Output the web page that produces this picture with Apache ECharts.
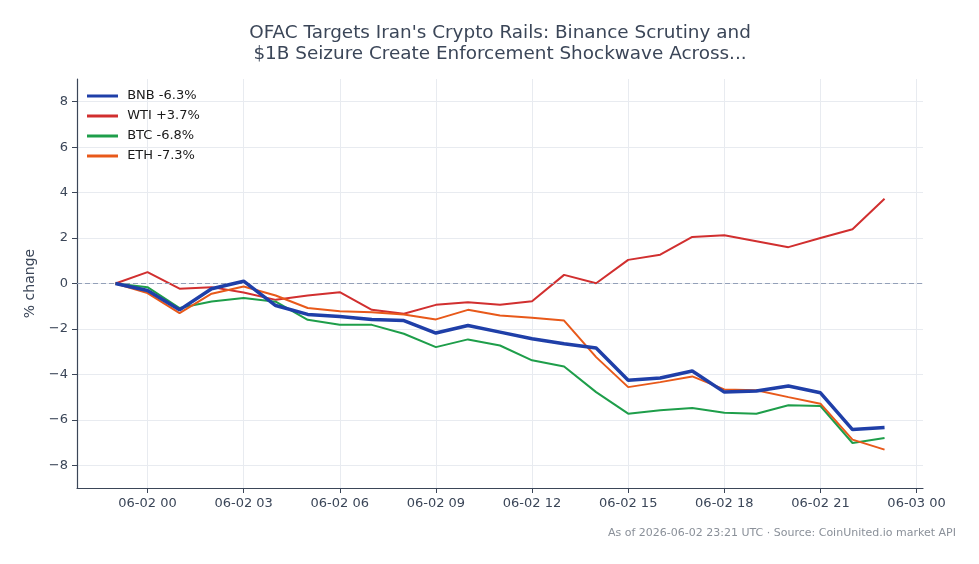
<!DOCTYPE html>
<html>
<head>
<meta charset="utf-8">
<script src="https://cdn.jsdelivr.net/npm/echarts@6/dist/echarts.min.js"></script>
<style>
  html, body { margin: 0; padding: 0; background: #fff; }
  #chart { width: 979px; height: 564px; }
</style>
</head>
<body>
<div id="chart"></div>
<script>
// hourly points, 06-01 23:00 .. 06-02 23:00 UTC
const hours = [];
for (let h = 0; h < 25; h++) hours.push(Date.UTC(2026, 5, 1, 23 + h));

const bnb = [0, -0.31, -1.16, -0.23, 0.1, -0.97, -1.36, -1.45, -1.58, -1.63, -2.18, -1.85, -2.14,
  -2.43, -2.65, -2.84, -4.26, -4.16, -3.85, -4.78, -4.73, -4.51, -4.81, -6.43, -6.34];
const wti = [0, 0.5, -0.23, -0.16, -0.4, -0.72, -0.53, -0.38, -1.16, -1.33, -0.94, -0.82, -0.94,
  -0.78, 0.38, 0.01, 1.04, 1.27, 2.05, 2.12, 1.86, 1.6, 2.0, 2.39, 3.73];
const btc = [0, -0.16, -1.08, -0.79, -0.64, -0.8, -1.6, -1.82, -1.82, -2.21, -2.8, -2.46, -2.73,
  -3.38, -3.65, -4.78, -5.73, -5.58, -5.48, -5.69, -5.73, -5.36, -5.39, -7.02, -6.8];
const eth = [0, -0.42, -1.3, -0.45, -0.13, -0.53, -1.08, -1.22, -1.26, -1.36, -1.58, -1.16, -1.41,
  -1.51, -1.63, -3.24, -4.56, -4.34, -4.09, -4.66, -4.7, -5.0, -5.29, -6.87, -7.31];

const seriesNames = ['BNB -6.3%', 'WTI +3.7%', 'BTC -6.8%', 'ETH -7.3%'];
const colors = ['#1f3fa8', '#d12f2f', '#1e9e4a', '#e8591a'];
const widths = [3.5, 2, 2, 2];

const xTicks = [];
for (let h = 0; h <= 24; h += 3) xTicks.push(Date.UTC(2026, 5, 2, h));
const yTicks = [-8, -6, -4, -2, 0, 2, 4, 6, 8];

// 5% margin each side, like the original
const pad = 1.2 * 3600 * 1000;
const xMin = hours[0] - pad;
const xMax = hours[hours.length - 1] + pad;

const fmtTime = v => {
  const d = new Date(v);
  const p = n => String(n).padStart(2, '0');
  return `${p(d.getUTCMonth() + 1)}-${p(d.getUTCDate())} ${p(d.getUTCHours())}`;
};

const chart = echarts.init(document.getElementById('chart'));
const axisColor = '#3b4658';
const font = 'DejaVu Sans';

const series = [bnb, wti, btc, eth].map((vals, i) => ({
  name: seriesNames[i],
  type: 'line',
  data: vals.map((v, j) => [hours[j], v]),
  showSymbol: false,
  symbol: 'none',
  z: i === 0 ? 5 : 3,
  lineStyle: { color: colors[i], width: widths[i] },
  itemStyle: { color: colors[i] }
}));
series[0].markLine = {
  silent: true,
  symbol: 'none',
  label: { show: false },
  lineStyle: { color: '#93a0b8', type: [5, 3], width: 1 },
  data: [{ yAxis: 0 }]
};

chart.setOption({
  animation: false,
  backgroundColor: '#fff',
  textStyle: { fontFamily: font },
  title: {
    text: "OFAC Targets Iran's Crypto Rails: Binance Scrutiny and\n$1B Seizure Create Enforcement Shockwave Across...",
    left: 495,
    top: 18,
    textAlign: 'center',
    textStyle: { fontFamily: font, fontSize: 18.4, fontWeight: 'normal', color: '#3b4658', lineHeight: 21 }
  },
  legend: {
    orient: 'vertical',
    left: 82,
    top: 84,
    itemWidth: 31,
    itemHeight: 3,
    itemGap: 6,
    icon: 'rect',
    formatter: name => ' ' + name,
    textStyle: { fontFamily: font, fontSize: 13, color: '#1a1a1a', lineHeight: 14 },
    data: seriesNames
  },
  grid: { left: 77, right: 56, top: 79, bottom: 76, containLabel: false },
  xAxis: {
    type: 'value',
    min: xMin,
    max: xMax,
    axisLine: { onZero: false, lineStyle: { color: axisColor, width: 1.2 } },
    axisTick: { customValues: xTicks, length: 5, lineStyle: { color: axisColor } },
    axisLabel: {
      customValues: xTicks,
      formatter: v => fmtTime(v),
      fontFamily: font, fontSize: 13, color: '#3b4658', margin: 9
    },
    splitLine: { show: true, lineStyle: { color: '#e8ebf0', width: 1 } }
  },
  yAxis: {
    type: 'value',
    min: -9,
    max: 9,
    name: '% change',
    nameLocation: 'middle',
    nameGap: 40,
    nameTextStyle: { fontFamily: font, fontSize: 14, color: '#3b4658' },
    axisLine: { show: true, onZero: false, lineStyle: { color: axisColor, width: 1.2 } },
    axisTick: { show: true, customValues: yTicks, length: 5, lineStyle: { color: axisColor } },
    axisLabel: {
      customValues: yTicks,
      formatter: v => String(v).replace('-', '\u2212'),
      fontFamily: font, fontSize: 13, color: '#3b4658', margin: 9
    },
    splitLine: { show: true, lineStyle: { color: '#e8ebf0', width: 1 } }
  },
  graphic: [{
    type: 'text',
    right: 23,
    top: 528,
    style: {
      text: 'As of 2026-06-02 23:21 UTC \u00b7 Source: CoinUnited.io market API',
      fontFamily: font,
      fontSize: 11,
      fill: '#8a9099'
    }
  }],
  series: series
});
</script>
</body>
</html>
